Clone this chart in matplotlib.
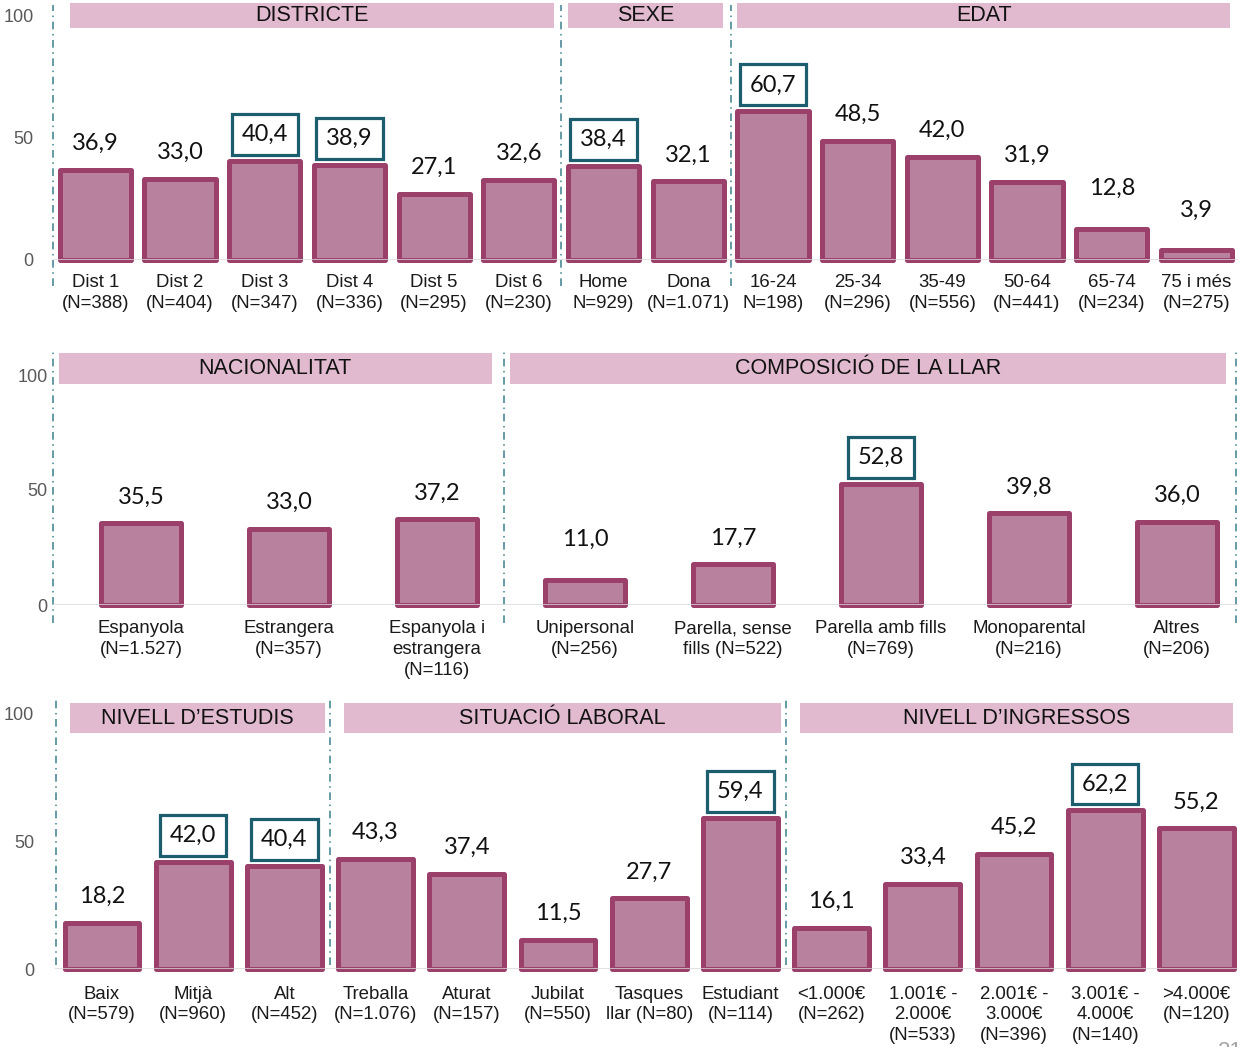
import matplotlib
matplotlib.use("Agg")
import matplotlib.pyplot as plt
from matplotlib.patches import Rectangle

# --- data -------------------------------------------------------------------
row1_labels = ["Dist 1\n(N=388)", "Dist 2\n(N=404)", "Dist 3\n(N=347)", "Dist 4\n(N=336)",
               "Dist 5\n(N=295)", "Dist 6\n(N=230)", "Home\nN=929)", "Dona\n(N=1.071)",
               "16-24\nN=198)", "25-34\n(N=296)", "35-49\n(N=556)", "50-64\n(N=441)",
               "65-74\n(N=234)", "75 i més\n(N=275)"]
row1_values = [36.9, 33.0, 40.4, 38.9, 27.1, 32.6, 38.4, 32.1, 60.7, 48.5, 42.0, 31.9, 12.8, 3.9]
row1_boxed = [2, 3, 6, 8]
row1_groups = ["DISTRICTE", "SEXE", "EDAT"]

row2_labels = ["Espanyola\n(N=1.527)", "Estrangera\n(N=357)", "Espanyola i\nestrangera\n(N=116)",
               "Unipersonal\n(N=256)", "Parella, sense\nfills (N=522)", "Parella amb fills\n(N=769)",
               "Monoparental\n(N=216)", "Altres\n(N=206)"]
row2_values = [35.5, 33.0, 37.2, 11.0, 17.7, 52.8, 39.8, 36.0]
row2_boxed = [5]
row2_groups = ["NACIONALITAT", "COMPOSICIÓ DE LA LLAR"]

row3_labels = ["Baix\n(N=579)", "Mitjà\n(N=960)", "Alt\n(N=452)", "Treballa\n(N=1.076)",
               "Aturat\n(N=157)", "Jubilat\n(N=550)", "Tasques\nllar (N=80)", "Estudiant\n(N=114)",
               "<1.000€\n(N=262)", "1.001€ -\n2.000€\n(N=533)", "2.001€ -\n3.000€\n(N=396)",
               "3.001€ -\n4.000€\n(N=140)", ">4.000€\n(N=120)"]
row3_values = [18.2, 42.0, 40.4, 43.3, 37.4, 11.5, 27.7, 59.4, 16.1, 33.4, 45.2, 62.2, 55.2]
row3_boxed = [1, 2, 7, 11]
row3_groups = ["NIVELL D\u2019ESTUDIS", "SITUACIÓ LABORAL", "NIVELL D\u2019INGRESSOS"]

# --- style ------------------------------------------------------------------
W, H = 1238, 1047
BAR_FILL = "#b8829f"
BAR_EDGE = "#9a406b"
HEAD_BG = "#e2bacf"
BOX_EDGE = "#1d5e6e"
SEP = "#3a7f8c"
VALUE_FONT = "Lato"
plt.rcParams["font.family"] = ["Liberation Sans", "DejaVu Sans"]

fig = plt.figure(figsize=(W / 100, H / 100), dpi=100)


def row(labels, values, boxed, groups, *, left, c0, sp, y0, y100, top, bar_w,
        seps, box_y, box_m, first_extra, sep_y, lbl_pad, ytick_pad, lift=None):
    scale = (y0 - y100) / 100.0
    ax = fig.add_axes([left / W, 1 - y0 / H, (W - left) / W, (y0 - top) / H])
    ax.set_xlim((left - c0) / sp, (W - c0) / sp)
    ax.set_ylim(0, (y0 - top) / scale)
    for s in ax.spines.values():
        s.set_visible(False)
    xs = list(range(len(values)))
    ax.bar(xs, values, width=bar_w, color=BAR_FILL, edgecolor=BAR_EDGE,
           linewidth=3.6, joinstyle="round", clip_on=False, zorder=2)
    ax.axhline(0, color="#d9d9d9", lw=1.8, zorder=3)
    ax.set_xticks(xs)
    ax.set_xticklabels(labels, fontsize=13.4, color="#1a1a1a", linespacing=1.28)
    ax.set_yticks([0, 50, 100])
    ax.set_yticklabels(["0", "50", "100"], fontsize=13, color="#595959")
    ax.tick_params(axis="x", length=0, pad=lbl_pad)
    ax.tick_params(axis="y", length=0, pad=ytick_pad)

    lift = lift or {}
    for i, v in enumerate(values):
        txt = f"{v:.1f}".replace(".", ",")
        kw = {}
        if i in boxed:
            kw["bbox"] = dict(boxstyle="square,pad=0.42", fc="white", ec=BOX_EDGE, lw=2.3)
        ax.annotate(txt, (i, v), xytext=(0, 19 + lift.get(i, 0)), textcoords="offset points",
                    ha="center", va="center", fontsize=17, family=VALUE_FONT,
                    color="#111111", zorder=4, annotation_clip=False, **kw)

    # group headers and separators
    edges = seps + [ax.get_xlim()[1]]
    for k, name in enumerate(groups):
        a = edges[k] + box_m[0] + (first_extra if k == 0 else 0)
        b = edges[k + 1] - box_m[1]
        ax.add_patch(Rectangle((a, box_y[0]), b - a, box_y[1] - box_y[0], fc=HEAD_BG,
                               ec="none", clip_on=False, zorder=1))
        ax.text((a + b) / 2, sum(box_y) / 2, name, ha="center", va="center",
                fontsize=15.5, color="#111111", zorder=2)
    for sx in seps:
        ax.plot([sx, sx], [sep_y[0], sep_y[1]], color=SEP, lw=1.1, ls=(0, (5, 3, 1, 3)),
                clip_on=False, zorder=1)
    return ax


row(row1_labels, row1_values, row1_boxed, row1_groups,
    left=53, c0=95.35, sp=84.7, y0=260, y100=15, top=0, bar_w=0.84,
    seps=[-0.5, 5.5, 7.5], box_y=(94.7, 104.9), box_m=(0.08, 0.09), first_extra=0.12,
    sep_y=(-10.5, 104), lbl_pad=10, ytick_pad=14, lift={12: 10, 13: 10})

ax2 = row(row2_labels, row2_values, row2_boxed, row2_groups,
          left=53, c0=141, sp=148, y0=605, y100=375, top=345, bar_w=0.54,
          seps=[-0.595, 2.45], box_y=(96.1, 109.6), box_m=(0.04, 0.08), first_extra=0.0,
          sep_y=(-8, 110), lbl_pad=11, ytick_pad=4, lift={3: 10})
ax2.plot([7.4, 7.4], [-8, 110], color=SEP, lw=1.1, ls=(0, (5, 3, 1, 3)), clip_on=False)

row(row3_labels, row3_values, row3_boxed, row3_groups,
    left=55, c0=102, sp=91.2, y0=969, y100=714, top=695, bar_w=0.82,
    seps=[-0.5, 2.5, 7.5], box_y=(92.5, 104.3), box_m=(0.15, 0.05), first_extra=0.0,
    sep_y=(1.5, 105.5), lbl_pad=12, ytick_pad=15)

# cut-off page number at the bottom right
fig.text(1218 / W, 6 / H, "21", fontsize=16, color="#a6a6a6", ha="left", va="top")

fig.savefig("out.png", dpi=100)
